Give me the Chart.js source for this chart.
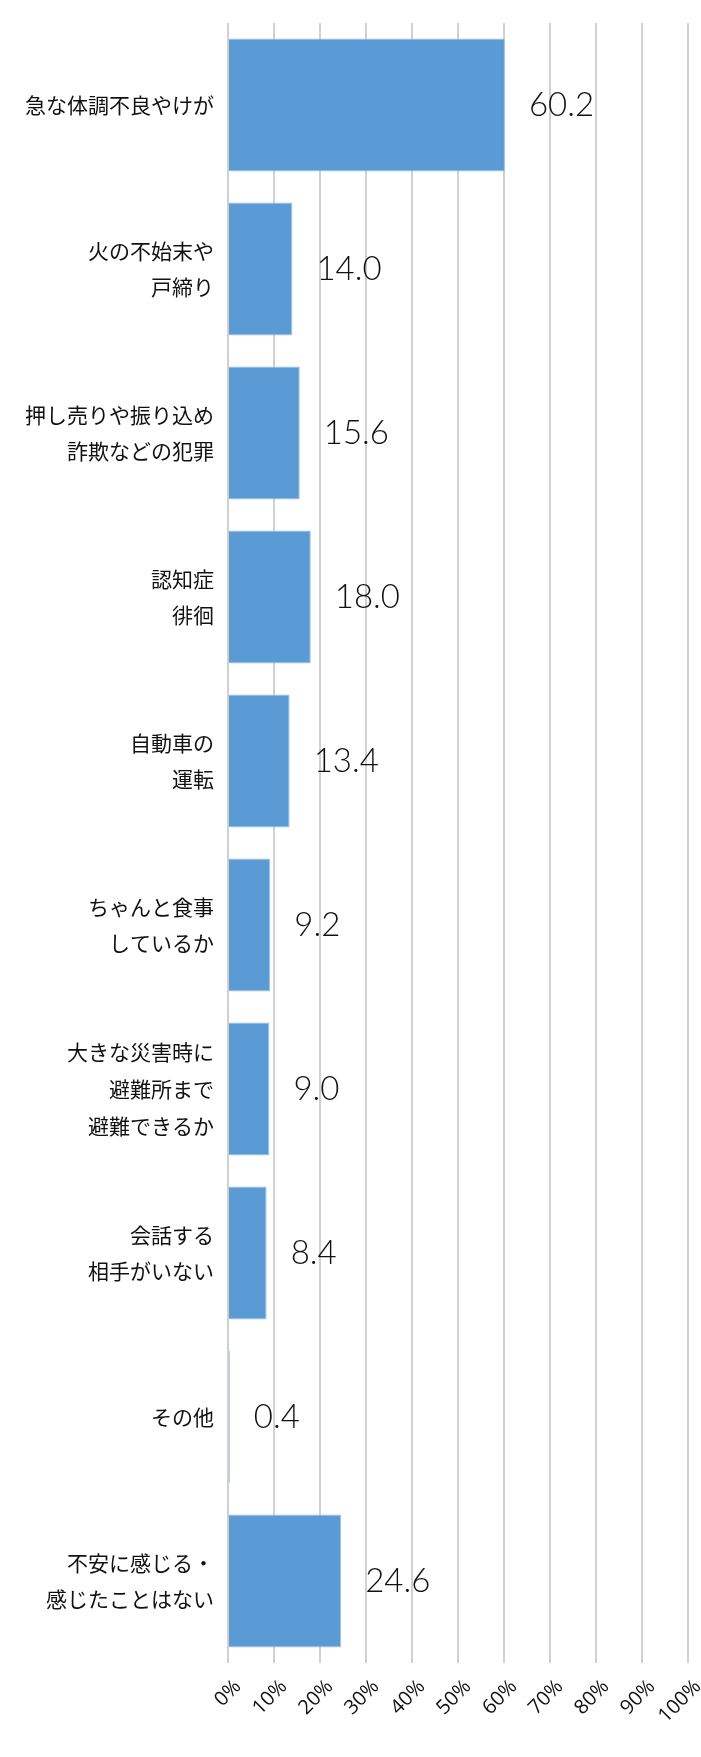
<!DOCTYPE html>
<html>
<head>
<meta charset="utf-8">
<script src="https://cdn.jsdelivr.net/npm/chart.js@4"></script>
<style>
    html, body { margin: 0; padding: 0; background: #fff; }
    #wrap { width: 701px; height: 1757px; }
</style>
</head>
<body>
<div id="wrap"><canvas id="barChart" width="701" height="1757"></canvas></div>
<script>
const categories = [
    '急な体調不良やけが',
    ['火の不始末や', '戸締り'],
    ['押し売りや振り込め', '詐欺などの犯罪'],
    ['認知症', '徘徊'],
    ['自動車の', '運転'],
    ['ちゃんと食事', 'しているか'],
    ['大きな災害時に', '避難所まで', '避難できるか'],
    ['会話する', '相手がいない'],
    'その他',
    ['不安に感じる・', '感じたことはない']
];
const values = [60.2, 14.0, 15.6, 18.0, 13.4, 9.2, 9.0, 8.4, 0.4, 24.6];
const xTicks = [0, 10, 20, 30, 40, 50, 60, 70, 80, 90, 100];

// draws the value next to the end of each bar
const valueLabels = {
    id: 'valueLabels',
    afterDatasetsDraw(chart) {
        const ctx = chart.ctx;
        const meta = chart.getDatasetMeta(0);
        ctx.save();
        ctx.font = '300 33px Lato, "Noto Sans CJK JP", sans-serif';
        ctx.fillStyle = '#111';
        ctx.textAlign = 'left';
        ctx.textBaseline = 'middle';
        meta.data.forEach((bar, i) => {
            ctx.fillText(values[i].toFixed(1), bar.x + 24, bar.y);
        });
        ctx.restore();
    }
};

const target = document.getElementById('barChart').getContext('2d');

new Chart(target, {
    type: 'bar',
    data: {
        labels: categories,
        datasets: [
            {
                data: values,
                backgroundColor: '#5b9bd5',
                borderColor: '#9dc3e6',
                borderWidth: 1,
                categoryPercentage: 0.81,
                barPercentage: 1
            }
        ]
    },
    plugins: [valueLabels],
    options: {
        indexAxis: 'y',
        responsive: false,
        animation: false,
        layout: {
            padding: { top: 23, right: 13, left: 0, bottom: 0 }
        },
        plugins: {
            legend: { display: false },
            tooltip: { enabled: false }
        },
        scales: {
            x: {
                min: 0,
                max: 100,
                afterBuildTicks: scale => {
                    scale.ticks = xTicks.map(v => ({ value: v }));
                },
                afterFit: scale => {
                    scale.height = 94;
                    scale.paddingLeft = 0;
                    scale.paddingRight = 0;
                },
                grid: {
                    color: '#d0d0d0',
                    lineWidth: 2,
                    drawTicks: false
                },
                border: { display: false },
                ticks: {
                    minRotation: 45,
                    maxRotation: 45,
                    padding: 12,
                    labelOffset: 10,
                    color: '#111',
                    font: { family: '"Open Sans", sans-serif', size: 20 },
                    callback: v => v + '%'
                }
            },
            y: {
                afterFit: scale => {
                    scale.width = 228;
                    scale.paddingTop = 0;
                    scale.paddingBottom = 0;
                },
                grid: { display: false },
                border: { display: false },
                ticks: {
                    padding: 6,
                    color: '#111',
                    font: { family: '"Noto Sans CJK JP", sans-serif', size: 21, lineHeight: 1.76 }
                }
            }
        }
    }
});
</script>
</body>
</html>
